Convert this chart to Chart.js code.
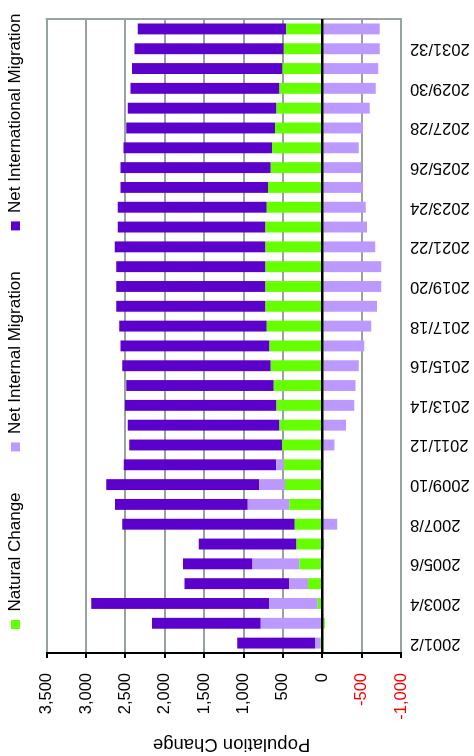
<!DOCTYPE html>
<html>
<head>
<meta charset="utf-8">
<script src="https://cdn.jsdelivr.net/npm/chart.js@4.4.1/dist/chart.umd.min.js"></script>
<style>
  html, body { margin: 0; padding: 0; background: #fff; overflow: hidden; width: 474px; height: 756px; }
  /* the chart is laid out landscape and turned a quarter turn anticlockwise */
  #turn { position: absolute; left: 0; top: 0; width: 756px; height: 474px;
          transform-origin: 0 0; transform: translateY(756px) rotate(-90deg); }
  canvas { display: block; }
</style>
</head>
<body>
<div id="turn"><canvas id="chart" width="756" height="474" style="width:756px;height:474px"></canvas></div>
<script>
// Components of annual population change, 2001/2 onwards
const years = [
  '2001/2', '2002/3', '2003/4', '2004/5', '2005/6', '2006/7', '2007/8', '2008/9',
  '2009/10', '2010/11', '2011/12', '2012/13', '2013/14', '2014/15', '2015/16', '2016/17',
  '2017/18', '2018/19', '2019/20', '2020/21', '2021/22', '2022/23', '2023/24', '2024/25',
  '2025/26', '2026/27', '2027/28', '2028/29', '2029/30', '2030/31', '2031/32', '2032/33'
];
const naturalChange = [
  25, -30, 58, 182, 290, 327, 348, 418,
  474, 488, 510, 543, 581, 616, 654, 671,
  705, 722, 722, 722, 722, 722, 705, 688,
  654, 637, 599, 581, 543, 505, 488, 459
];
const netInternalMigration = [
  67, 781, 616, 238, 596, -25, -190, 528,
  326, 95, -154, -300, -406, -423, -462, -534,
  -622, -694, -749, -749, -673, -567, -551, -516,
  -497, -462, -516, -602, -678, -711, -731, -731
];
const netInternationalMigration = [
  988, 1380, 2259, 1330, 882, 1243, 2192, 1686,
  1944, 1938, 1942, 1926, 1926, 1874, 1887, 1891,
  1874, 1895, 1895, 1895, 1913, 1874, 1891, 1874,
  1908, 1887, 1891, 1888, 1892, 1913, 1896, 1883
];
const seriesNames = ['Natural Change', 'Net Internal Migration', 'Net International Migration'];
const valueTicks = [-1000, -500, 0, 500, 1000, 1500, 2000, 2500, 3000, 3500];

const FONT = "'Liberation Sans', Arial, sans-serif";
const GRID = '#97a3a3';

const chartDecor = {
  id: 'chartDecor',
  afterLayout(chart) {
    // legend row sits close to the top edge, starting over the plot
    const lg = chart.legend;
    if (!lg) return;
    const dx = 86 - lg.left;
    lg.left += dx;
    lg.right += dx;
    lg.top = -34;
  },
  beforeDatasetsDraw(chart) {
    const { ctx, chartArea: a } = chart;
    ctx.save();
    ctx.strokeStyle = GRID;
    ctx.lineWidth = 2;
    ctx.beginPath();
    ctx.moveTo(a.right, a.top - 1);
    ctx.lineTo(a.right, a.bottom + 1);
    ctx.stroke();
    ctx.restore();
  },
  afterDatasetsDraw(chart) {
    const { ctx, chartArea: a, scales } = chart;
    const y0 = scales.y.getPixelForValue(0);
    ctx.save();
    ctx.strokeStyle = '#000';
    ctx.lineWidth = 2.5;
    ctx.beginPath();
    ctx.moveTo(a.left, y0);
    ctx.lineTo(a.right, y0);
    ctx.stroke();
    ctx.restore();
  }
};

new Chart(document.getElementById('chart'), {
  type: 'bar',
  data: {
    labels: years,
    datasets: [
      { label: seriesNames[0], data: naturalChange, backgroundColor: '#66ff00' },
      { label: seriesNames[1], data: netInternalMigration, backgroundColor: '#bb99ff' },
      { label: seriesNames[2], data: netInternationalMigration, backgroundColor: '#5c00cc' }
    ]
  },
  options: {
    responsive: false,
    animation: false,
    devicePixelRatio: 1,
    layout: { padding: { left: 0, right: 8, top: 0, bottom: 0 } },
    datasets: { bar: { barPercentage: 0.55, categoryPercentage: 1.0, borderWidth: 0 } },
    plugins: {
      legend: {
        position: 'top',
        align: 'start',
        maxHeight: 46.7,
        labels: {
          boxWidth: 9,
          boxHeight: 9,
          padding: 41,
          color: '#000',
          font: { family: FONT, size: 17 }
        }
      },
      tooltip: { enabled: false }
    },
    scales: {
      x: {
        stacked: true,
        grid: { display: false, drawTicks: false },
        border: { display: true, color: GRID, width: 2 },
        ticks: {
          autoSkip: false,
          minRotation: 90,
          maxRotation: 90,
          padding: 9,
          color: '#000',
          font: { family: FONT, size: 16.5 },
          callback: (v, i) => (i % 2 === 0 ? years[i] : '')
        },
        afterFit(s) { s.height = 73; }
      },
      y: {
        stacked: true,
        min: valueTicks[0],
        max: valueTicks[valueTicks.length - 1],
        afterBuildTicks(s) { s.ticks = valueTicks.map(v => ({ value: v })); },
        grid: { color: GRID, lineWidth: 2, tickLength: 5, tickColor: '#000', tickWidth: 2 },
        border: { color: '#000', width: 2 },
        ticks: {
          padding: 15,
          color: c => (c.tick.value < 0 ? '#ff0000' : '#000'),
          font: { family: FONT, size: 16.5 },
          callback: v => Number(v).toLocaleString('en-US')
        },
        title: {
          display: true,
          // trailing spaces nudge the centred title slightly toward the low end of the axis
          text: 'Population Change   ',
          color: '#000',
          font: { family: FONT, size: 18.5 },
          padding: { top: 1, bottom: 0 }
        },
        afterFit(s) { s.width = 103; }
      }
    }
  },
  plugins: [chartDecor]
});
</script>
</body>
</html>
